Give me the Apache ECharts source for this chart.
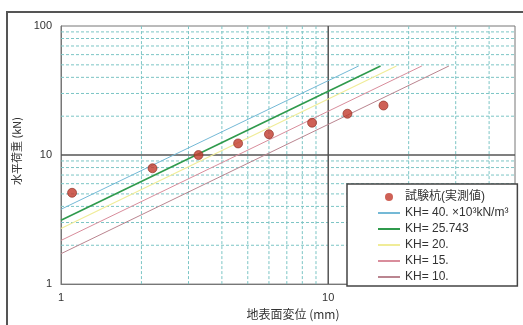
<!DOCTYPE html>
<html><head><meta charset="utf-8">
<script src="https://cdn.jsdelivr.net/npm/echarts@6/dist/echarts.min.js"></script>
<style>html,body{margin:0;padding:0;background:#fff}#c{width:523px;height:325px}</style>
</head><body><div id="c"></div>
<script>
// measured test-pile points (displacement mm, load kN)
const obsX = [1.1, 2.2, 3.27, 4.6, 6.0, 8.7, 11.8, 16.1];
const obsY = [5.1, 7.9, 10.0, 12.3, 14.5, 17.8, 20.9, 24.2];
// KH lines: [start, end] as [x, y]
const kh40 = [[1, 3.8], [13.0, 49]];
const kh25 = [[1, 3.12], [15.7, 49]];
const kh20 = [[1, 2.7], [18.0, 49]];
const kh15 = [[1, 2.18], [22.4, 49]];
const kh10 = [[1, 1.72], [28.3, 49]];
const names = ['試験杭(実測値)', 'KH= 40. ×10³kN/m³', 'KH= 25.743', 'KH= 20.', 'KH= 15.', 'KH= 10.'];
// axis ranges and grid/tick values
const xRange = [1, 50];
const yRange = [1, 100];
const xMinorGrid = [2, 3, 4, 5, 6, 7, 8, 9, 20, 30, 40];
const yMinorGrid = [2, 3, 4, 5, 6, 7, 8, 9, 20, 30, 40, 50, 60, 70, 80, 90];
const xMajorGrid = [10];
const yMajorGrid = [10];
const xTickLabels = [1, 10];
const yTickLabels = [1, 10, 100];

function gridData(xs, ys) {
  const d = [];
  xs.forEach(v => { d.push([v, yRange[0]], [v, yRange[1]], '-'); });
  ys.forEach(v => { d.push([xRange[0], v], [xRange[1], v], '-'); });
  return d;
}

const chart = echarts.init(document.getElementById('c'), null, {renderer: 'canvas'});
const lab = {fontFamily: 'Liberation Sans, Arial, sans-serif', fontSize: 11, color: '#333'};
const cjk = 'Noto Sans CJK JP, Liberation Sans, sans-serif';
const lineSeries = (name, d, color, w) => ({
  name: name, type: 'line', data: d, symbol: 'none', showSymbol: false, z: 4, animation: false,
  lineStyle: {color: color, width: w}, itemStyle: {color: color}
});

chart.setOption({
  animation: false,
  backgroundColor: '#fff',
  graphic: [{type: 'rect', shape: {x: 7, y: 12, width: 620, height: 400},
    style: {fill: 'none', stroke: '#555', lineWidth: 2}, z: -1, silent: true}],
  grid: {left: 61, top: 26, right: 8, bottom: 37, show: true, borderColor: '#777', borderWidth: 1, backgroundColor: 'transparent'},
  xAxis: {
    type: 'log', logBase: 10, min: xRange[0], max: xRange[1],
    name: '地表面変位 (mm)', nameLocation: 'middle', nameGap: 23,
    nameTextStyle: {fontFamily: cjk, fontSize: 12, color: '#333', padding: [0, 0, 0, 10]},
    axisLine: {show: true, lineStyle: {color: '#777'}},
    axisTick: {show: false}, splitLine: {show: false},
    axisLabel: Object.assign({}, lab, {margin: 8, showMaxLabel: false,
      formatter: v => xTickLabels.some(t => Math.abs(t - v) < 1e-6) ? String(Math.round(v)) : ''})
  },
  yAxis: {
    type: 'log', logBase: 10, min: yRange[0], max: yRange[1],
    name: '水平荷重 (kN)', nameLocation: 'middle', nameGap: 37, nameRotate: 90,
    nameTextStyle: {fontFamily: cjk, fontSize: 11, color: '#333', padding: [0, 0, 0, 8]},
    axisLine: {show: true, lineStyle: {color: '#777'}},
    axisTick: {show: false}, splitLine: {show: false},
    axisLabel: Object.assign({}, lab, {margin: 9,
      formatter: v => yTickLabels.some(t => Math.abs(t - v) < 1e-6) ? String(Math.round(v)) : ''})
  },
  legend: {
    orient: 'vertical', left: 347, top: 184,
    backgroundColor: '#fff', borderColor: '#444', borderWidth: 1.5,
    padding: [7, 9, 3, 30], itemGap: 4, itemWidth: 22, itemHeight: 8,
    textStyle: {fontFamily: 'Liberation Sans, Noto Sans CJK JP, sans-serif', fontSize: 12, color: '#333'},
    data: names.map((n, i) => i === 0
      ? {name: n, icon: 'circle', itemStyle: {color: '#c23a2c', borderWidth: 0}}
      : {name: n, itemStyle: {opacity: 0}})
  },
  series: [
    {type: 'line', data: gridData(xMinorGrid, yMinorGrid), z: 1, silent: true, symbol: 'none', connectNulls: false,
      lineStyle: {color: '#7cc5c5', width: 1, type: [3, 2]}},
    {type: 'line', data: gridData(xMajorGrid, yMajorGrid), z: 2, silent: true, symbol: 'none', connectNulls: false,
      lineStyle: {color: '#555', width: 1.5}},
    lineSeries(names[1], kh40, '#74b9d6', 1),
    lineSeries(names[2], kh25, '#2f9a4c', 1.6),
    lineSeries(names[3], kh20, '#f0ec98', 1.2),
    lineSeries(names[4], kh15, '#d98d9c', 1),
    lineSeries(names[5], kh10, '#ba8590', 1),
    {name: names[0], type: 'scatter', z: 6, symbolSize: 9,
      data: obsX.map((x, i) => [x, obsY[i]]),
      itemStyle: {color: '#c23a2c', borderColor: '#8a2a20', borderWidth: 0.8}}
  ]
});
</script></body></html>
